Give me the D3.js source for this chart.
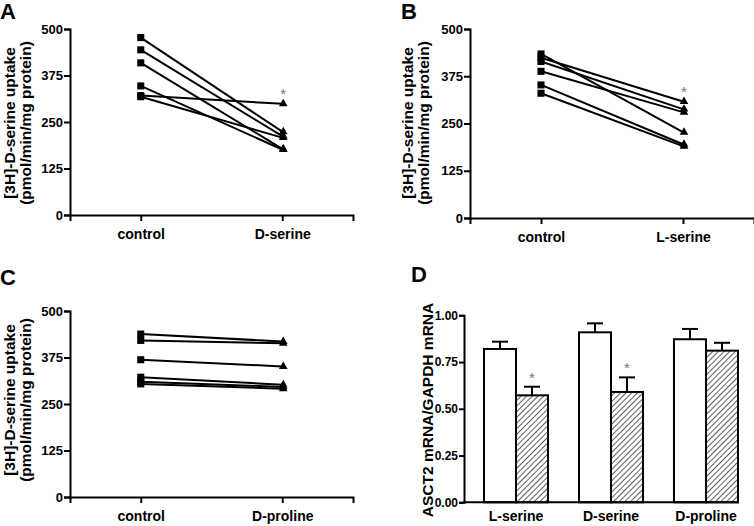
<!DOCTYPE html>
<html>
<head>
<meta charset="utf-8">
<script src="https://cdn.jsdelivr.net/npm/d3@7/dist/d3.min.js"></script>
<style>
  html, body { margin: 0; padding: 0; background: #fff; }
  svg { display: block; font-family: "Liberation Sans", Arial, sans-serif; }
</style>
</head>
<body>
<svg id="chart" width="754" height="526"></svg>
<script>
// ---------- DATA ----------
const uptakeTicks = [0, 125, 250, 375, 500];

const panelACategories = ["control", "D-serine"];
const panelAControl = [477, 444, 409, 347, 321, 318];
const panelATreated = [224, 212, 178, 176, 299, 208];

const panelBCategories = ["control", "L-serine"];
const panelBControl = [434, 424, 414, 388, 352, 330];
const panelBTreated = [227, 308, 288, 280, 195, 190];

const panelCCategories = ["control", "D-proline"];
const panelCControl = [438, 421, 369, 322, 310, 304];
const panelCTreated = [418, 413, 351, 302, 296, 291];

const panelDCategories = ["L-serine", "D-serine", "D-proline"];
const panelDControlMean = [0.820, 0.909, 0.872];
const panelDControlErr  = [0.039, 0.048, 0.055];
const panelDTreatedMean = [0.572, 0.590, 0.811];
const panelDTreatedErr  = [0.046, 0.078, 0.042];
const panelDTicks = [0, 0.25, 0.5, 0.75, 1.0];

const uptakeLabel1 = "[3H]-D-serine uptake";
const uptakeLabel2 = "(pmol/min/mg protein)";
const mrnaLabel = "ASCT2 mRNA/GAPDH mRNA";

// ---------- DRAW ----------
const svg = d3.select("#chart");

const defs = svg.append("defs");
const pat = defs.append("pattern")
  .attr("id", "hatch")
  .attr("patternUnits", "userSpaceOnUse")
  .attr("width", 4).attr("height", 4)
  .attr("patternTransform", "rotate(45)");
pat.append("rect").attr("width", 4).attr("height", 4).attr("fill", "#fff");
pat.append("line").attr("x1", 0).attr("y1", 0).attr("x2", 0).attr("y2", 4)
  .attr("stroke", "#333").attr("stroke-width", 1.6);

function styleAxis(g, fs) {
  g.selectAll(".domain").attr("stroke", "#000").attr("stroke-width", 2);
  g.selectAll(".tick line").attr("stroke", "#000").attr("stroke-width", 2);
  g.selectAll("text").attr("font-size", fs || 13).attr("font-weight", "bold")
    .attr("fill", "#000").attr("font-family", "Liberation Sans, Arial, sans-serif");
}

function uptakePanel(cfg) {
  const g = svg.append("g");
  const x = d3.scalePoint().domain(cfg.categories).range([cfg.x0, cfg.x1]).padding(0.5);
  const y = d3.scaleLinear().domain([0, 500]).range([cfg.yBottom, cfg.yTop]);

  const ya = g.append("g").attr("transform", `translate(${cfg.x0},0)`)
    .call(d3.axisLeft(y).tickValues(uptakeTicks).tickSizeOuter(0).tickSize(6).tickPadding(1));
  styleAxis(ya);
  const xa = g.append("g").attr("transform", `translate(0,${cfg.yBottom})`)
    .call(d3.axisBottom(x).tickSizeOuter(0).tickSize(6).tickPadding(8));
  styleAxis(xa, 14);

  const pairs = cfg.control.map((c, i) => [c, cfg.treated[i]]);
  g.selectAll("line.pair").data(pairs).join("line")
    .attr("class", "pair")
    .attr("x1", x(cfg.categories[0])).attr("y1", d => y(d[0]))
    .attr("x2", x(cfg.categories[1])).attr("y2", d => y(d[1]))
    .attr("stroke", "#000").attr("stroke-width", 2);

  g.selectAll("path.sq").data(cfg.control).join("path")
    .attr("class", "sq")
    .attr("d", d3.symbol(d3.symbolSquare, 50)())
    .attr("transform", d => `translate(${x(cfg.categories[0])},${y(d)})`)
    .attr("fill", "#000");
  g.selectAll("path.tri").data(cfg.treated).join("path")
    .attr("class", "tri")
    .attr("d", d3.symbol(d3.symbolTriangle, 32)())
    .attr("transform", d => `translate(${x(cfg.categories[1]) + 1},${y(d)})`)
    .attr("fill", "#000");

  if (cfg.star) {
    g.append("text")
      .attr("x", x(cfg.categories[1]) + 1)
      .attr("y", y(d3.max(cfg.treated)) - 5)
      .attr("text-anchor", "middle")
      .attr("font-size", 15).attr("fill", "#777")
      .text("*");
  }

  const cy = cfg.labelCenter;
  g.append("text")
    .attr("transform", `translate(${cfg.labelX1},${cy}) rotate(-90)`)
    .attr("text-anchor", "middle").attr("font-size", 15.5).attr("font-weight", "bold")
    .text(uptakeLabel1);
  g.append("text")
    .attr("transform", `translate(${cfg.labelX2},${cy}) rotate(-90)`)
    .attr("text-anchor", "middle").attr("font-size", 15.5).attr("font-weight", "bold")
    .text(uptakeLabel2);

  g.append("text").attr("x", cfg.letterX).attr("y", cfg.letterY)
    .attr("font-size", 22).attr("font-weight", "bold").text(cfg.letter);
}

uptakePanel({
  categories: panelACategories, control: panelAControl, treated: panelATreated,
  x0: 70, x1: 353, yTop: 29, yBottom: 215, star: true,
  labelX1: 15, labelX2: 31, labelCenter: 123,
  letter: "A", letterX: 0, letterY: 19
});
uptakePanel({
  categories: panelBCategories, control: panelBControl, treated: panelBTreated,
  x0: 470, x1: 754, yTop: 29, yBottom: 218, star: true,
  labelX1: 413, labelX2: 429, labelCenter: 123,
  letter: "B", letterX: 401, letterY: 19
});
uptakePanel({
  categories: panelCCategories, control: panelCControl, treated: panelCTreated,
  x0: 70, x1: 353, yTop: 311, yBottom: 497, star: false,
  labelX1: 15, labelX2: 31, labelCenter: 400,
  letter: "C", letterX: 0, letterY: 285
});

// ---------- Panel D ----------
(function () {
  const g = svg.append("g");
  const yTop = 315.3, yBottom = 502.3;
  const x = d3.scaleBand().domain(panelDCategories).range([465, 757])
    .paddingInner(0.326).paddingOuter(0.2);
  const xs = d3.scaleBand().domain(["control", "treated"]).range([0, x.bandwidth()]);
  const y = d3.scaleLinear().domain([0, 1]).range([yBottom, yTop]);

  const rows = panelDCategories.map((c, i) => ([
    { cat: c, key: "control", mean: panelDControlMean[i], err: panelDControlErr[i], star: false },
    { cat: c, key: "treated", mean: panelDTreatedMean[i], err: panelDTreatedErr[i], star: i < 2 }
  ])).flat();

  const capW = 16;
  rows.forEach(d => {
    const cx = x(d.cat) + xs(d.key) + xs.bandwidth() / 2;
    g.append("line").attr("x1", cx).attr("x2", cx)
      .attr("y1", y(d.mean)).attr("y2", y(d.mean + d.err))
      .attr("stroke", "#000").attr("stroke-width", 2);
    g.append("line").attr("x1", cx - capW / 2).attr("x2", cx + capW / 2)
      .attr("y1", y(d.mean + d.err)).attr("y2", y(d.mean + d.err))
      .attr("stroke", "#000").attr("stroke-width", 2);
    if (d.star) {
      g.append("text").attr("x", cx).attr("y", y(d.mean + d.err) - 4)
        .attr("text-anchor", "middle").attr("font-size", 15).attr("fill", "#777").text("*");
    }
  });

  g.selectAll("rect.bar").data(rows).join("rect")
    .attr("class", "bar")
    .attr("x", d => x(d.cat) + xs(d.key))
    .attr("width", xs.bandwidth())
    .attr("y", d => y(d.mean))
    .attr("height", d => y(0) - y(d.mean))
    .attr("fill", d => d.key === "control" ? "#fff" : "url(#hatch)")
    .attr("stroke", "#000").attr("stroke-width", 2);

  const ya = g.append("g").attr("transform", "translate(464,0)")
    .call(d3.axisLeft(y).tickValues(panelDTicks).tickFormat(d3.format(".2f"))
      .tickSizeOuter(0).tickSize(5).tickPadding(1));
  styleAxis(ya, 12);

  const xa = g.append("g").attr("transform", `translate(0,${yBottom})`)
    .call(d3.axisBottom(x).tickSize(0).tickPadding(9));
  styleAxis(xa, 14);
  xa.select(".domain").remove();
  g.append("line").attr("x1", 463).attr("x2", 739).attr("y1", yBottom).attr("y2", yBottom)
    .attr("stroke", "#000").attr("stroke-width", 2);

  g.append("text")
    .attr("transform", `translate(433,410) rotate(-90)`)
    .attr("text-anchor", "middle").attr("font-size", 15.5).attr("font-weight", "bold")
    .text(mrnaLabel);

  g.append("text").attr("x", 411).attr("y", 282)
    .attr("font-size", 22).attr("font-weight", "bold").text("D");
})();
</script>
</body>
</html>
